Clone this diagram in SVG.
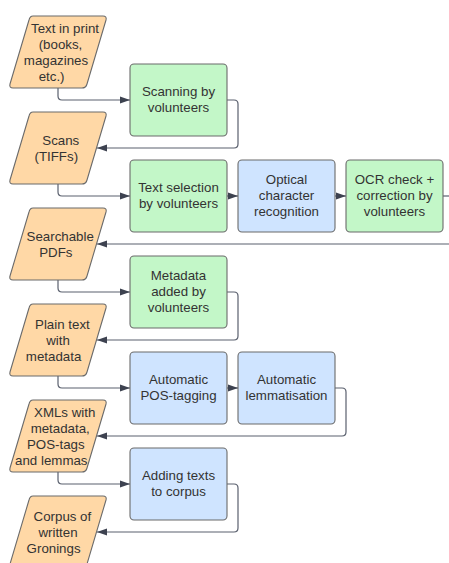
<svg xmlns="http://www.w3.org/2000/svg" width="449" height="563" viewBox="0 0 449 563">
<style>
.io{fill:#FFD8A6;stroke:#6b6b6b;stroke-width:1.1;stroke-linejoin:round}
.g{fill:#C3F7C8;stroke:#6b6b6b;stroke-width:1.1}
.b{fill:#CFE4FF;stroke:#6b6b6b;stroke-width:1.1}
text{font-family:"Liberation Sans",Arial,sans-serif;font-size:13.3px;fill:#333;text-anchor:middle}
.c{fill:none;stroke:#5a606e;stroke-width:1.2;stroke-linejoin:round}
</style>
<defs>
<marker id="ah" markerUnits="userSpaceOnUse" markerWidth="11" markerHeight="8" refX="10" refY="4" orient="auto">
<path d="M0,0.5 L10,4 L0,7.5 z" fill="#3d4250"/>
</marker>
</defs>
<g id="connectors">
<path class="c" d="M58,88 V96 Q58,100 62,100 H130" marker-end="url(#ah)"/>
<path class="c" d="M227,100 H234 Q238,100 238,104 V144 Q238,148 234,148 H97" marker-end="url(#ah)"/>
<path class="c" d="M58,184 V192 Q58,196 62,196 H130" marker-end="url(#ah)"/>
<path class="c" d="M227,196 H238" marker-end="url(#ah)"/>
<path class="c" d="M335,196 H346" marker-end="url(#ah)"/>
<path class="c" d="M443,196 H449"/>
<path class="c" d="M449,244 H97" marker-end="url(#ah)"/>
<path class="c" d="M58,280 V288 Q58,292 62,292 H130" marker-end="url(#ah)"/>
<path class="c" d="M227,292 H234 Q238,292 238,296 V336 Q238,340 234,340 H97" marker-end="url(#ah)"/>
<path class="c" d="M58,376 V384 Q58,388 62,388 H130" marker-end="url(#ah)"/>
<path class="c" d="M227,388 H238" marker-end="url(#ah)"/>
<path class="c" d="M335,388 H342 Q346,388 346,392 V432 Q346,436 342,436 H97" marker-end="url(#ah)"/>
<path class="c" d="M58,472 V480 Q58,484 62,484 H130" marker-end="url(#ah)"/>
<path class="c" d="M227,484 H234 Q238,484 238,488 V528 Q238,532 234,532 H97" marker-end="url(#ah)"/>
</g>
<g id="print">
<path class="io" d="M33,16 H103 Q107,16 106,20 L87,84 Q86,88 82,88 H13 Q9,88 10,84 L29,20 Q30,16 33,16 Z"/>
<text x="65" y="32.7">Text in print</text>
<text x="60.5" y="48.7">(books,</text>
<text x="56" y="64.7">magazines</text>
<text x="51.6" y="80.7">etc.)</text>
</g>
<g id="scanning">
<rect class="g" x="130" y="64" width="97" height="72" rx="4"/>
<text x="178.5" y="95.7">Scanning by</text>
<text x="178.5" y="111.7">volunteers</text>
</g>
<g id="scans">
<path class="io" d="M33,112 H103 Q107,112 106,116 L87,180 Q86,184 82,184 H13 Q9,184 10,180 L29,116 Q30,112 33,112 Z"/>
<text x="60.8" y="144.7">Scans</text>
<text x="56.3" y="160.7">(TIFFs)</text>
</g>
<g id="textselection">
<rect class="g" x="130" y="160" width="97" height="72" rx="4"/>
<text x="178.5" y="191.7">Text selection</text>
<text x="178.5" y="207.7">by volunteers</text>
</g>
<g id="ocr">
<rect class="b" x="238" y="160" width="97" height="72" rx="4"/>
<text x="286.5" y="183.7">Optical</text>
<text x="286.5" y="199.7">character</text>
<text x="286.5" y="215.7">recognition</text>
</g>
<g id="ocrcheck">
<rect class="g" x="346" y="160" width="97" height="72" rx="4"/>
<text x="394.5" y="183.7">OCR check +</text>
<text x="394.5" y="199.7">correction by</text>
<text x="394.5" y="215.7">volunteers</text>
</g>
<g id="pdfs">
<path class="io" d="M33,208 H103 Q107,208 106,212 L87,276 Q86,280 82,280 H13 Q9,280 10,276 L29,212 Q30,208 33,208 Z"/>
<text x="60.2" y="240.7">Searchable</text>
<text x="55.8" y="256.7">PDFs</text>
</g>
<g id="metadata">
<rect class="g" x="130" y="256" width="97" height="72" rx="4"/>
<text x="178.5" y="279.7">Metadata</text>
<text x="178.5" y="295.7">added by</text>
<text x="178.5" y="311.7">volunteers</text>
</g>
<g id="plaintext">
<path class="io" d="M33,304 H103 Q107,304 106,308 L87,372 Q86,376 82,376 H13 Q9,376 10,372 L29,308 Q30,304 33,304 Z"/>
<text x="62.4" y="328.7">Plain text</text>
<text x="58" y="344.7">with</text>
<text x="53.6" y="360.7">metadata</text>
</g>
<g id="postagging">
<rect class="b" x="130" y="352" width="97" height="72" rx="4"/>
<text x="178.5" y="383.7">Automatic</text>
<text x="178.5" y="399.7">POS-tagging</text>
</g>
<g id="lemmatisation">
<rect class="b" x="238" y="352" width="97" height="72" rx="4"/>
<text x="286.5" y="383.7">Automatic</text>
<text x="286.5" y="399.7">lemmatisation</text>
</g>
<g id="xmls">
<path class="io" d="M33,400 H103 Q107,400 106,404 L87,468 Q86,472 82,472 H13 Q9,472 10,468 L29,404 Q30,400 33,400 Z"/>
<text x="64.7" y="416.7">XMLs with</text>
<text x="60.2" y="432.7">metadata,</text>
<text x="55.8" y="448.7">POS-tags</text>
<text x="51.3" y="464.7">and lemmas</text>
</g>
<g id="adding">
<rect class="b" x="130" y="448" width="97" height="72" rx="4"/>
<text x="178.5" y="479.7">Adding texts</text>
<text x="178.5" y="495.7">to corpus</text>
</g>
<g id="corpus">
<path class="io" d="M33,496 H103 Q107,496 106,500 L87,564 Q86,568 82,568 H13 Q9,568 10,564 L29,500 Q30,496 33,496 Z"/>
<text x="62.4" y="520.7">Corpus of</text>
<text x="58" y="536.7">written</text>
<text x="53.6" y="552.7">Gronings</text>
</g>
</svg>
